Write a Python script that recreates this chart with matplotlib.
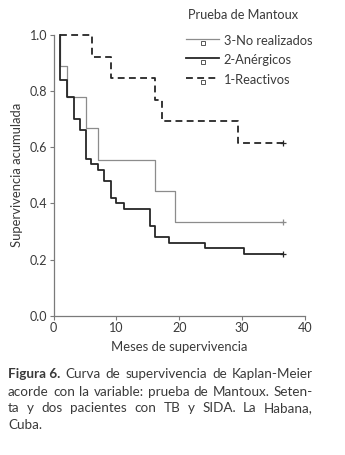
import matplotlib
matplotlib.use("Agg")
import matplotlib.pyplot as plt
from matplotlib.lines import Line2D

plt.rcParams['font.family'] = ['Lato', 'DejaVu Sans']

# Prueba de Mantoux - curvas de Kaplan-Meier (meses, supervivencia acumulada)
reactivos_t = [1.0, 6.2, 9.2, 16.1, 17.2, 29.3, 36.5]
reactivos_s = [1.0, 0.923, 0.846, 0.769, 0.692, 0.615, 0.615]

no_realizados_t = [1.0, 1.1, 2.2, 5.2, 7.0, 16.2, 19.3, 36.5]
no_realizados_s = [1.0, 0.889, 0.778, 0.667, 0.556, 0.444, 0.333, 0.333]

anergicos_t = [1.0, 1.1, 2.2, 3.3, 4.2, 5.2, 6.0, 7.0, 8.1, 9.1, 10.0, 11.2,
               15.3, 16.1, 18.3, 24.1, 30.3, 36.5]
anergicos_s = [1.0, 0.84, 0.78, 0.70, 0.66, 0.56, 0.54, 0.52, 0.48, 0.42, 0.40,
               0.38, 0.32, 0.28, 0.26, 0.24, 0.22, 0.22]

legend_labels = ['3-No realizados', '2-Anérgicos', '1-Reactivos']
x_ticks = [0, 10, 20, 30, 40]
y_ticks = [0.0, 0.2, 0.4, 0.6, 0.8, 1.0]

W, H = 345, 455
TXT = '#3a3a3a'
fig = plt.figure(figsize=(W / 100, H / 100), dpi=100)
ax = fig.add_axes([53.5 / W, 1 - 315.7 / H, (305 - 53.5) / W, (315.7 - 35) / H])

gray = '#8c8c8c'
dark = '#262626'
ax.step(no_realizados_t, no_realizados_s, where='post', color=gray, lw=0.9, clip_on=False)
ax.step(anergicos_t, anergicos_s, where='post', color=dark, lw=1.3, clip_on=False)
l3, = ax.step(reactivos_t, reactivos_s, where='post', color=dark, lw=1.3, clip_on=False)
l3.set_dashes((3.8, 2.4))

# marcas de censura al final
for t, s, c in [(no_realizados_t, no_realizados_s, gray),
                (anergicos_t, anergicos_s, dark),
                (reactivos_t, reactivos_s, dark)]:
    ax.plot(t[-1], s[-1], marker='+', color=c, ms=5, mew=0.9, clip_on=False)

ax.set_xlim(0, 40)
ax.set_ylim(0, 1.0)
ax.set_xticks(x_ticks)
ax.set_yticks(y_ticks)
ax.set_yticklabels([f'{v:.1f}' for v in y_ticks])
for sp in ['top', 'right']:
    ax.spines[sp].set_visible(False)
for sp in ['left', 'bottom']:
    ax.spines[sp].set_color('#7a7a7a')
    ax.spines[sp].set_linewidth(0.9)
ax.tick_params(colors='#7a7a7a', labelcolor=TXT, labelsize=9, length=3, width=0.8, pad=1.5)
ax.set_xlabel('Meses de supervivencia', fontsize=9.4, color=TXT, labelpad=5)
ax.set_ylabel('Supervivencia acumulada', fontsize=9.4, color=TXT, labelpad=5)

# leyenda dibujada a mano
def fx(px):
    return px / W

def fy(py):
    return 1 - py / H

fig.text(fx(188), fy(15), 'Prueba de Mantoux', fontsize=9.2, color=TXT, va='center')
styles = [dict(color=gray, lw=0.9), dict(color=dark, lw=1.3), dict(color=dark, lw=1.3, dashes=(3.8, 2.4))]
rows = [40, 59, 79]
for lab, st, yy in zip(legend_labels, styles, rows):
    fig.add_artist(Line2D([fx(186), fx(219)], [fy(yy - 1), fy(yy - 1)], transform=fig.transFigure, **st))
    fig.add_artist(Line2D([fx(203)], [fy(yy + 3)], transform=fig.transFigure, marker='s', ms=3.2,
                          mfc='white', mec='#555555', mew=0.7, ls='none'))
    fig.text(fx(223.5), fy(yy + 1), lab, fontsize=9.3, color=TXT, va='center')

# pie de figura justificado
caption = [
    [('Figura 6.', 'bold'), ('Curva', 'normal'), ('de', 'normal'), ('supervivencia', 'normal'),
     ('de', 'normal'), ('Kaplan-Meier', 'normal')],
    'acorde con la variable: prueba de Mantoux. Seten-',
    'ta y dos pacientes con TB y SIDA. La Habana,',
    'Cuba.',
]
cap_y = [374, 391.5, 408.5, 425]
x0, x1 = 8, 313
renderer = fig.canvas.get_renderer()
for i, (line, yy) in enumerate(zip(caption, cap_y)):
    if isinstance(line, str):
        words = [(w, 'normal') for w in line.split()]
    else:
        words = line
    texts = [fig.text(0, fy(yy), w, fontsize=9.7, color=TXT, weight=wt, va='center')
             for w, wt in words]
    widths = [t.get_window_extent(renderer).width for t in texts]
    if i < len(caption) - 1 and len(texts) > 1:
        gap = (x1 - x0 - sum(widths)) / (len(texts) - 1)
    else:
        gap = 3.0
    x = x0
    for t, w in zip(texts, widths):
        t.set_x(fx(x))
        x += w + gap

fig.savefig('out.png', dpi=100)
